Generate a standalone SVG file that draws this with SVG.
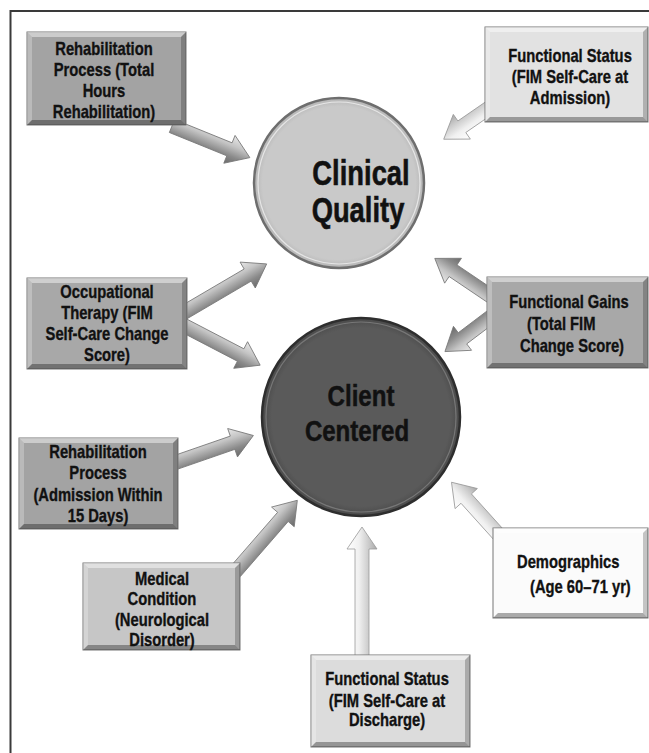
<svg xmlns="http://www.w3.org/2000/svg" width="649" height="753" viewBox="0 0 649 753">
<defs>
<linearGradient id="ga" x1="0" y1="0" x2="0" y2="1">
<stop offset="0" stop-color="#e8e8e8"/><stop offset="0.35" stop-color="#c4c4c4"/><stop offset="0.7" stop-color="#8a8a8a"/><stop offset="1" stop-color="#6a6a6a"/>
</linearGradient>
<linearGradient id="gl" x1="0" y1="0" x2="0" y2="1">
<stop offset="0" stop-color="#ffffff"/><stop offset="0.4" stop-color="#f0f0f0"/><stop offset="0.75" stop-color="#c8c8c8"/><stop offset="1" stop-color="#a8a8a8"/>
</linearGradient>
<radialGradient id="gq" cx="0.5" cy="0.5" r="0.5">
<stop offset="0.9" stop-color="#c9c9c9"/><stop offset="1" stop-color="#b5b5b5"/>
</radialGradient>
<radialGradient id="gc" cx="0.5" cy="0.5" r="0.5">
<stop offset="0.9" stop-color="#5a5a5a"/><stop offset="1" stop-color="#4a4a4a"/>
</radialGradient>
</defs>
<style>
.t{font-family:"Liberation Sans",Arial,sans-serif;font-weight:bold;fill:#111;stroke:#111;stroke-width:0.35;font-size:18px;text-anchor:middle}
.s{text-anchor:start}
.big{font-size:36px;stroke-width:0.6}
.mid{font-size:29px;stroke-width:0.5}
.bx{stroke:#777;stroke-width:1}
.hl{fill:#fff;opacity:0.45}
.hs{fill:#fff;opacity:0.25}
.sr{fill:#000;opacity:0.22}
.sb{fill:#000;opacity:0.32}
.ar{fill:url(#ga);stroke:#777;stroke-width:0.8}
.al{fill:url(#gl);stroke:#999;stroke-width:0.8}
</style>
<rect x="0" y="0" width="649" height="753" fill="#fff"/>
<path d="M10.5 753 V11 H649" fill="none" stroke="#3a3a3a" stroke-width="2"/>

<g id="connectors">
<g transform="translate(172,126) rotate(22.1)"><polygon class="ar" points="0,-7 62,-7 62,-15 84,0 62,15 62,7 0,7"/></g>
<g transform="translate(489,108) rotate(145.4)"><polygon class="al" points="0,-7 33,-7 33,-15 55,0 33,15 33,7 0,7"/></g>
<g transform="translate(183,313) rotate(-30.4)"><polygon class="ar" points="0,-7 75,-7 75,-15 97,0 75,15 75,7 0,7"/></g>
<g transform="translate(183,325) rotate(27.5)"><polygon class="ar" points="0,-7 65,-7 65,-15 87,0 65,15 65,7 0,7"/></g>
<g transform="translate(492,297) rotate(-146)"><polygon class="ar" points="0,-7 47,-7 47,-15 69,0 47,15 47,7 0,7"/></g>
<g transform="translate(492,316) rotate(142.9)"><polygon class="ar" points="0,-7 37,-7 37,-15 59,0 37,15 37,7 0,7"/></g>
<g transform="translate(174,463) rotate(-19.1)"><polygon class="ar" points="0,-7 62,-7 62,-15 84,0 62,15 62,7 0,7"/></g>
<g transform="translate(235,572) rotate(-49)"><polygon class="ar" points="0,-7 73,-7 73,-15 95,0 73,15 73,7 0,7"/></g>
<g transform="translate(362,660) rotate(-90)"><polygon class="al" points="0,-7 111,-7 111,-15 133,0 111,15 111,7 0,7"/></g>
<g transform="translate(499,535) rotate(-132)"><polygon class="al" points="0,-7 49,-7 49,-15 71,0 49,15 49,7 0,7"/></g>
</g>

<g id="clinical-quality">
<circle cx="339" cy="183" r="85" fill="url(#gq)" stroke="#6e6e6e" stroke-width="2.5"/>
<circle cx="339" cy="183" r="81" fill="none" stroke="#e6e6e6" stroke-width="1.2"/>
<text class="t big" transform="matrix(0.76 0 0 1 361 185)">Clinical</text>
<text class="t big" transform="matrix(0.76 0 0 1 358 222)">Quality</text>
</g>

<g id="client-centered">
<circle cx="361" cy="417" r="99" fill="url(#gc)" stroke="#2e2e2e" stroke-width="2.5"/>
<circle cx="361" cy="417" r="95" fill="none" stroke="#777" stroke-width="1.2"/>
<text class="t mid" transform="matrix(0.83 0 0 1 361 406)">Client</text>
<text class="t mid" transform="matrix(0.83 0 0 1 357 441)">Centered</text>
</g>

<g id="rehab-total-hours">
<rect class="bx" x="27" y="32" width="159" height="93" fill="#a3a3a3"/>
<polygon class="hl" points="27,32 186,32 181,37 32,37"/>
<polygon class="hs" points="27,32 32,37 32,120 27,125"/>
<polygon class="sr" points="186,32 186,125 181,120 181,37"/>
<polygon class="sb" points="27,125 186,125 181,120 32,120"/>
<text class="t" transform="matrix(0.82 0 0 1 104 55)">Rehabilitation</text>
<text class="t" transform="matrix(0.82 0 0 1 104 76)">Process (Total</text>
<text class="t" transform="matrix(0.82 0 0 1 104 97)">Hours</text>
<text class="t" transform="matrix(0.82 0 0 1 104 118)">Rehabilitation)</text>
</g>

<g id="functional-status-admission">
<rect class="bx" x="485" y="27" width="163" height="95" fill="#e2e2e2"/>
<polygon class="hl" points="485,27 648,27 643,32 490,32"/>
<polygon class="hs" points="485,27 490,32 490,117 485,122"/>
<polygon class="sr" points="648,27 648,122 643,117 643,32"/>
<polygon class="sb" points="485,122 648,122 643,117 490,117"/>
<text class="t" transform="matrix(0.82 0 0 1 570 62)">Functional Status</text>
<text class="t" transform="matrix(0.82 0 0 1 570 83)">(FIM Self-Care at</text>
<text class="t" transform="matrix(0.82 0 0 1 570 104)">Admission)</text>
</g>

<g id="occupational-therapy">
<rect class="bx" x="27" y="278" width="160" height="91" fill="#a8a8a8"/>
<polygon class="hl" points="27,278 187,278 182,283 32,283"/>
<polygon class="hs" points="27,278 32,283 32,364 27,369"/>
<polygon class="sr" points="187,278 187,369 182,364 182,283"/>
<polygon class="sb" points="27,369 187,369 182,364 32,364"/>
<text class="t" transform="matrix(0.82 0 0 1 107 298)">Occupational</text>
<text class="t" transform="matrix(0.82 0 0 1 107 319)">Therapy (FIM</text>
<text class="t" transform="matrix(0.82 0 0 1 107 340)">Self-Care Change</text>
<text class="t" transform="matrix(0.82 0 0 1 107 361)">Score)</text>
</g>

<g id="functional-gains">
<rect class="bx" x="487" y="277" width="161" height="91" fill="#a8a8a8"/>
<polygon class="hl" points="487,277 648,277 643,282 492,282"/>
<polygon class="hs" points="487,277 492,282 492,363 487,368"/>
<polygon class="sr" points="648,277 648,368 643,363 643,282"/>
<polygon class="sb" points="487,368 648,368 643,363 492,363"/>
<text class="t" transform="matrix(0.82 0 0 1 569 308)">Functional Gains</text>
<text class="t s" transform="matrix(0.82 0 0 1 527 330)">(Total FIM</text>
<text class="t s" transform="matrix(0.82 0 0 1 520 352)">Change Score)</text>
</g>

<g id="rehab-admission">
<rect class="bx" x="19" y="438" width="159" height="91" fill="#a3a3a3"/>
<polygon class="hl" points="19,438 178,438 173,443 24,443"/>
<polygon class="hs" points="19,438 24,443 24,524 19,529"/>
<polygon class="sr" points="178,438 178,529 173,524 173,443"/>
<polygon class="sb" points="19,529 178,529 173,524 24,524"/>
<text class="t" transform="matrix(0.82 0 0 1 98 458)">Rehabilitation</text>
<text class="t" transform="matrix(0.82 0 0 1 98 479)">Process</text>
<text class="t" transform="matrix(0.82 0 0 1 98 501)">(Admission Within</text>
<text class="t" transform="matrix(0.82 0 0 1 98 522)">15 Days)</text>
</g>

<g id="medical-condition">
<rect class="bx" x="83" y="563" width="157" height="87" fill="#c6c6c6"/>
<polygon class="hl" points="83,563 240,563 235,568 88,568"/>
<polygon class="hs" points="83,563 88,568 88,645 83,650"/>
<polygon class="sr" points="240,563 240,650 235,645 235,568"/>
<polygon class="sb" points="83,650 240,650 235,645 88,645"/>
<text class="t" transform="matrix(0.82 0 0 1 162 585)">Medical</text>
<text class="t" transform="matrix(0.82 0 0 1 162 605)">Condition</text>
<text class="t" transform="matrix(0.82 0 0 1 162 626)">(Neurological</text>
<text class="t" transform="matrix(0.82 0 0 1 162 646)">Disorder)</text>
</g>

<g id="functional-status-discharge">
<rect class="bx" x="311" y="655" width="159" height="92" fill="#dcdcdc"/>
<polygon class="hl" points="311,655 470,655 465,660 316,660"/>
<polygon class="hs" points="311,655 316,660 316,742 311,747"/>
<polygon class="sr" points="470,655 470,747 465,742 465,660"/>
<polygon class="sb" points="311,747 470,747 465,742 316,742"/>
<text class="t" transform="matrix(0.82 0 0 1 387 685)">Functional Status</text>
<text class="t" transform="matrix(0.82 0 0 1 387 707)">(FIM Self-Care at</text>
<text class="t" transform="matrix(0.82 0 0 1 387 726)">Discharge)</text>
</g>

<g id="demographics">
<rect class="bx" x="493" y="528" width="155" height="90" fill="#fbfbfb"/>
<polygon class="hl" points="493,528 648,528 643,533 498,533"/>
<polygon class="sr" points="648,528 648,618 643,613 643,533"/>
<polygon class="sb" points="493,618 648,618 643,613 498,613"/>
<text class="t s" transform="matrix(0.82 0 0 1 517 568)">Demographics</text>
<text class="t s" transform="matrix(0.82 0 0 1 530 593)">(Age 60–71 yr)</text>
</g>
</svg>
